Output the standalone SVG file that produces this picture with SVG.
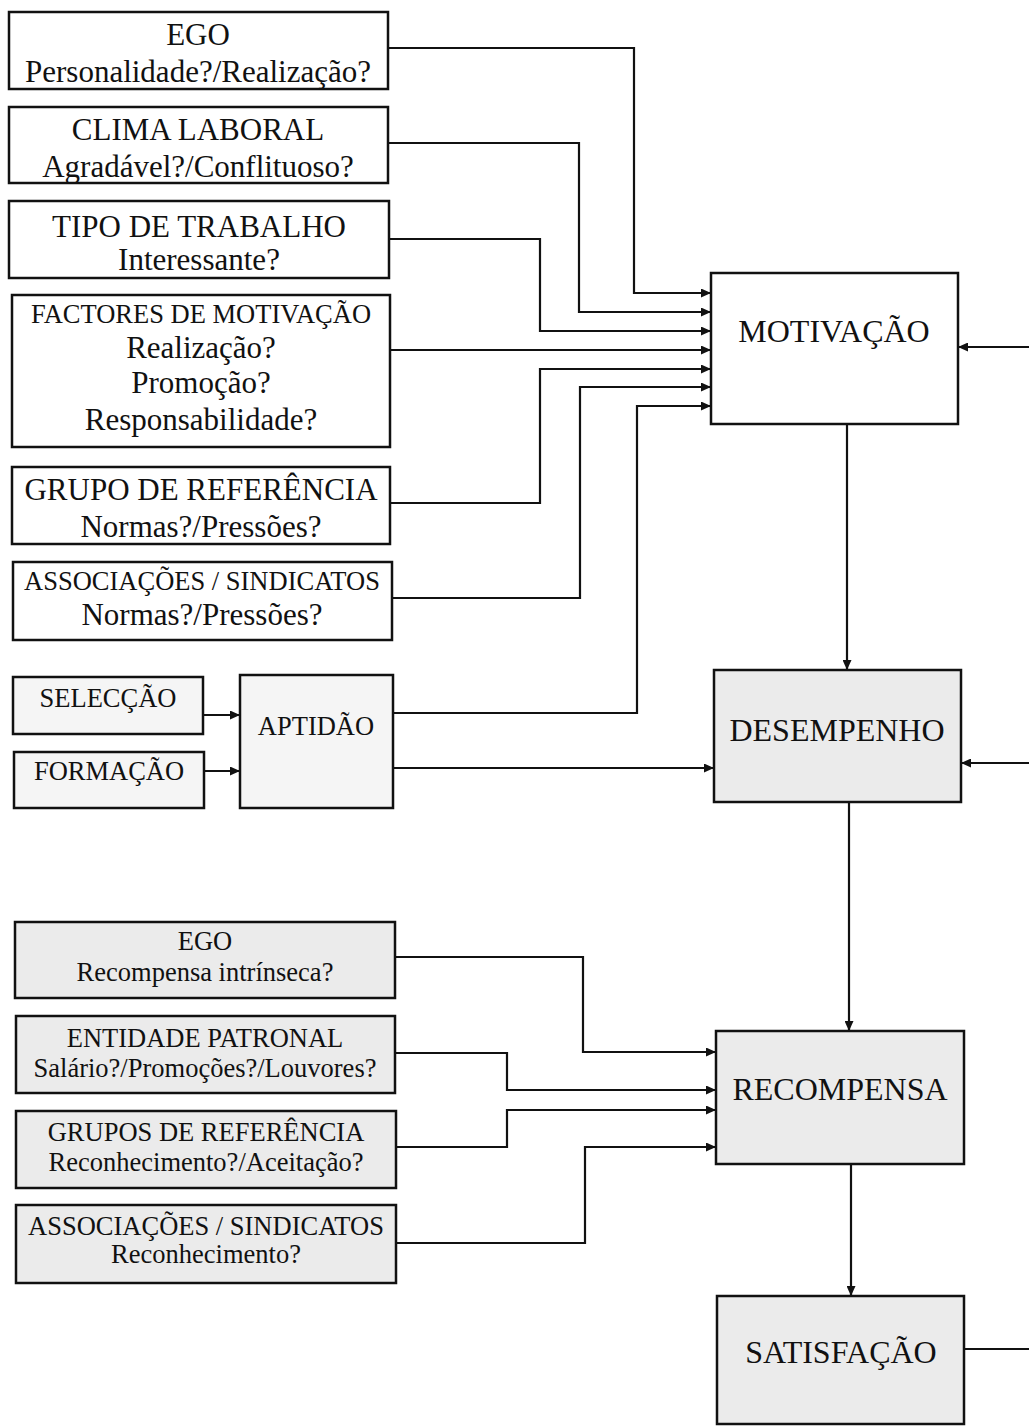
<svg xmlns="http://www.w3.org/2000/svg" width="1029" height="1427" viewBox="0 0 1029 1427">
<style>
  .box { stroke: #111; stroke-width: 2.5; fill: #fff; }
  .gray { fill: #ebebeb; }
  .light { fill: #f5f5f5; }
  text { font-family: "Liberation Serif", "Times New Roman", serif; fill: #111; text-anchor: middle; }
  .big { font-size: 31px; }
  .sm { font-size: 26.5px; }
  .main { font-size: 32px; }
  .conn path { fill: none; stroke: #111; stroke-width: 2.2; }
</style>
<defs>
  <marker id="arr" viewBox="0 0 10 9" refX="10" refY="4.5" markerWidth="10" markerHeight="9" markerUnits="userSpaceOnUse" orient="auto">
    <path d="M0,0 L10,4.5 L0,9 z" fill="#111"/>
  </marker>
</defs>
<rect width="1029" height="1427" fill="#fff"/>

<g class="conn">
  <path d="M388,48 H634 V293 H711" marker-end="url(#arr)"/>
  <path d="M388,143 H579 V312 H711" marker-end="url(#arr)"/>
  <path d="M389,239 H540 V331 H711" marker-end="url(#arr)"/>
  <path d="M390,350 H711" marker-end="url(#arr)"/>
  <path d="M390,503 H540 V369 H711" marker-end="url(#arr)"/>
  <path d="M392,598 H580 V387 H711" marker-end="url(#arr)"/>
  <path d="M393,713 H637 V406 H711" marker-end="url(#arr)"/>
  <path d="M203,715 H240" marker-end="url(#arr)"/>
  <path d="M204,771 H240" marker-end="url(#arr)"/>
  <path d="M393,768 H714" marker-end="url(#arr)"/>
  <path d="M847,424 V670" marker-end="url(#arr)"/>
  <path d="M1029,347 H958" marker-end="url(#arr)"/>
  <path d="M1029,763 H961" marker-end="url(#arr)"/>
  <path d="M849,802 V1031" marker-end="url(#arr)"/>
  <path d="M395,957 H583 V1052 H716" marker-end="url(#arr)"/>
  <path d="M395,1053 H507 V1090 H716" marker-end="url(#arr)"/>
  <path d="M396,1147 H507 V1110 H716" marker-end="url(#arr)"/>
  <path d="M396,1243 H585 V1147 H716" marker-end="url(#arr)"/>
  <path d="M851,1164 V1296" marker-end="url(#arr)"/>
  <path d="M964,1349 H1029"/>
</g>

<g id="ego">
  <rect class="box" x="9" y="12" width="379" height="77"/>
  <text class="big" x="198" y="45">EGO</text>
  <text class="big" x="198" y="82">Personalidade?/Realização?</text>
</g>
<g id="clima">
  <rect class="box" x="9" y="107" width="379" height="76"/>
  <text class="big" x="198" y="140">CLIMA LABORAL</text>
  <text class="big" x="198" y="177">Agradável?/Conflituoso?</text>
</g>
<g id="tipo">
  <rect class="box" x="9" y="201" width="380" height="77"/>
  <text class="big" x="199" y="237">TIPO DE TRABALHO</text>
  <text class="big" x="199" y="270">Interessante?</text>
</g>
<g id="factores">
  <rect class="box" x="12" y="295" width="378" height="152"/>
  <text class="sm" x="201" y="323">FACTORES DE MOTIVAÇÃO</text>
  <text class="big" x="201" y="358">Realização?</text>
  <text class="big" x="201" y="393">Promoção?</text>
  <text class="big" x="201" y="430">Responsabilidade?</text>
</g>
<g id="grupo">
  <rect class="box" x="12" y="467" width="378" height="77"/>
  <text class="big" x="201" y="500">GRUPO DE REFERÊNCIA</text>
  <text class="big" x="201" y="537">Normas?/Pressões?</text>
</g>
<g id="assoc">
  <rect class="box" x="13" y="562" width="379" height="78"/>
  <text class="sm" x="202" y="590">ASSOCIAÇÕES / SINDICATOS</text>
  <text class="big" x="202" y="625">Normas?/Pressões?</text>
</g>
<g id="seleccao">
  <rect class="box light" x="13" y="677" width="190" height="57"/>
  <text class="sm" x="108" y="707">SELECÇÃO</text>
</g>
<g id="formacao">
  <rect class="box light" x="14" y="752" width="190" height="56"/>
  <text class="sm" x="109" y="780">FORMAÇÃO</text>
</g>
<g id="aptidao">
  <rect class="box light" x="240" y="675" width="153" height="133"/>
  <text class="sm" x="316" y="735">APTIDÃO</text>
</g>
<g id="motivacao">
  <rect class="box" x="711" y="273" width="247" height="151"/>
  <text class="main" x="834" y="342">MOTIVAÇÃO</text>
</g>
<g id="desempenho">
  <rect class="box gray" x="714" y="670" width="247" height="132"/>
  <text class="main" x="837" y="741">DESEMPENHO</text>
</g>
<g id="ego2">
  <rect class="box gray" x="15" y="922" width="380" height="76"/>
  <text class="sm" x="205" y="950">EGO</text>
  <text class="sm" x="205" y="981">Recompensa intrínseca?</text>
</g>
<g id="entidade">
  <rect class="box gray" x="16" y="1016" width="379" height="77"/>
  <text class="sm" x="205" y="1047">ENTIDADE PATRONAL</text>
  <text class="sm" x="205" y="1077">Salário?/Promoções?/Louvores?</text>
</g>
<g id="grupos">
  <rect class="box gray" x="16" y="1111" width="380" height="77"/>
  <text class="sm" x="206" y="1141">GRUPOS DE REFERÊNCIA</text>
  <text class="sm" x="206" y="1171">Reconhecimento?/Aceitação?</text>
</g>
<g id="assoc2">
  <rect class="box gray" x="16" y="1205" width="380" height="78"/>
  <text class="sm" x="206" y="1235">ASSOCIAÇÕES / SINDICATOS</text>
  <text class="sm" x="206" y="1263">Reconhecimento?</text>
</g>
<g id="recompensa">
  <rect class="box gray" x="716" y="1031" width="248" height="133"/>
  <text class="main" x="840" y="1100">RECOMPENSA</text>
</g>
<g id="satisfacao">
  <rect class="box gray" x="717" y="1296" width="247" height="128"/>
  <text class="main" x="841" y="1363">SATISFAÇÃO</text>
</g>
</svg>
